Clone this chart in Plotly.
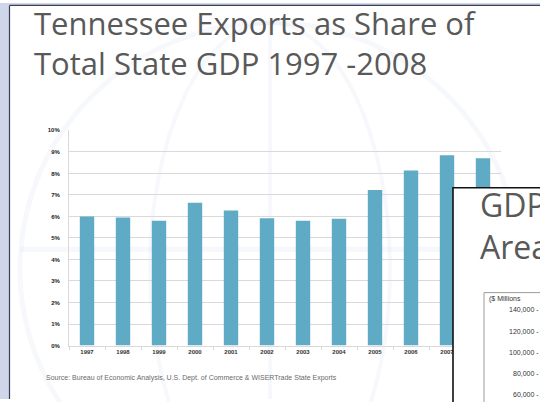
import plotly.graph_objects as go

# Exports as a share of Tennessee GDP
years = ["1997", "1998", "1999", "2000", "2001", "2002",
         "2003", "2004", "2005", "2006", "2007", "2008"]
export_share = [0.060, 0.0595, 0.058, 0.0663, 0.0627, 0.0591,
                0.058, 0.0589, 0.0723, 0.0814, 0.0884, 0.0870]
share_ticks = [0.00, 0.01, 0.02, 0.03, 0.04, 0.05, 0.06, 0.07, 0.08, 0.09, 0.10]

# Value axis of the next slide peeking in at the lower right
gdp_ticks = [140000, 120000, 100000, 80000, 60000]
gdp_tick_labels = ["140,000", "120,000", "100,000", "80,000", "60,000"]

W, H = 540, 402


def px(x):
    return x / W


def py(y):
    return 1 - y / H


BAR = "#5fabc6"
GRID = "#d9d9d9"
TITLE_GRAY = "#595959"
TITLE_FONT = "Open Sans, sans-serif"
SMALL_FONT = "Liberation Sans, Arial, sans-serif"

fig = go.Figure()

fig.add_trace(go.Bar(
    x=years, y=export_share, marker=dict(color=BAR, line=dict(width=0)),
    width=0.4, xaxis="x", yaxis="y", hoverinfo="skip", showlegend=False,
))

# invisible trace that keeps the second slide's value axis alive
fig.add_trace(go.Scatter(
    x=[0], y=[None], xaxis="x2", yaxis="y2", mode="markers",
    marker=dict(opacity=0), showlegend=False, hoverinfo="skip",
))

shapes = []

# slide frame: lavender strip on the left/top, dark edge line
shapes.append(dict(type="rect", xref="paper", yref="paper",
                   x0=0, x1=px(9), y0=0, y1=1,
                   fillcolor="#cfd6ea", line=dict(width=0), layer="below"))
shapes.append(dict(type="rect", xref="paper", yref="paper",
                   x0=0, x1=1, y0=py(2), y1=1,
                   fillcolor="#cfd6ea", line=dict(width=0), layer="below"))
shapes.append(dict(type="line", xref="paper", yref="paper",
                   x0=px(9.5), x1=px(9.5), y0=0, y1=py(2.5),
                   line=dict(color="#3a3f55", width=1.2), layer="below"))
shapes.append(dict(type="line", xref="paper", yref="paper",
                   x0=px(9.5), x1=1, y0=py(2.5), y1=py(2.5),
                   line=dict(color="#3a3f55", width=1.2), layer="below"))

# faint globe watermark behind the chart
wm = "rgba(215,222,238,0.22)"
shapes.append(dict(type="circle", xref="paper", yref="paper",
                   x0=px(20), x1=px(520), y0=py(520), y1=py(20),
                   line=dict(color=wm, width=5), layer="below"))
shapes.append(dict(type="circle", xref="paper", yref="paper",
                   x0=px(150), x1=px(390), y0=py(520), y1=py(20),
                   line=dict(color=wm, width=4), layer="below"))
shapes.append(dict(type="line", xref="paper", yref="paper",
                   x0=px(20), x1=px(520), y0=py(250), y1=py(250),
                   line=dict(color=wm, width=5), layer="below"))
shapes.append(dict(type="line", xref="paper", yref="paper",
                   x0=px(270), x1=px(270), y0=py(20), y1=0,
                   line=dict(color=wm, width=4), layer="below"))

# the next slide, overlapping the lower right corner
shapes.append(dict(type="rect", xref="paper", yref="paper",
                   x0=px(453), x1=px(545), y0=py(410), y1=py(187.5),
                   fillcolor="white", line=dict(color="#111111", width=1.6),
                   layer="above"))
shapes.append(dict(type="rect", xref="paper", yref="paper",
                   x0=px(484), x1=px(560), y0=py(420), y1=py(294),
                   fillcolor="white", line=dict(color="#9a9a9a", width=1),
                   layer="above"))

annotations = [
    dict(text="Tennessee Exports as Share of<br>Total State GDP 1997 -2008",
         xref="paper", yref="paper", x=px(32), y=py(-3),
         xanchor="left", yanchor="top", align="left", showarrow=False,
         font=dict(family=TITLE_FONT, size=31, color=TITLE_GRAY)),
    dict(text="Source: Bureau of Economic Analysis, U.S. Dept. of Commerce &amp; WISERTrade State Exports",
         xref="paper", yref="paper", x=px(44), y=py(381),
         xanchor="left", yanchor="middle", showarrow=False,
         font=dict(family=SMALL_FONT, size=7, color="#6a6a6a")),
    dict(text="GDP<br>Area",
         xref="paper", yref="paper", x=px(478), y=py(181),
         xanchor="left", yanchor="top", align="left", showarrow=False,
         font=dict(family=TITLE_FONT, size=32, color=TITLE_GRAY)),
    dict(text="($ Millions",
         xref="paper", yref="paper", x=px(487), y=py(300),
         xanchor="left", yanchor="middle", showarrow=False,
         font=dict(family=SMALL_FONT, size=7, color="#333333")),
]
for v, lab in zip(gdp_ticks, gdp_tick_labels):
    annotations.append(dict(
        text=lab + " -", xref="paper", yref="y2", x=px(541), y=v,
        xanchor="right", yanchor="middle", showarrow=False,
        font=dict(family=SMALL_FONT, size=7, color="#333333")))

fig.update_layout(
    width=W, height=H,
    margin=dict(l=0, r=0, t=0, b=0),
    paper_bgcolor="white", plot_bgcolor="rgba(0,0,0,0)",
    shapes=shapes,
    annotations=annotations,
    xaxis=dict(
        domain=[px(69), px(501)], anchor="y",
        showgrid=False, showline=True, linecolor=GRID, linewidth=1,
        ticks="outside", ticklen=3, tickcolor=GRID, tickson="boundaries",
        tickfont=dict(family=SMALL_FONT, size=6, color="#333333", weight="bold"),
        fixedrange=True,
    ),
    yaxis=dict(
        domain=[py(347.7), py(129.3)], anchor="x",
        range=[0, 0.10], tickvals=share_ticks, tickformat=".0%",
        showgrid=True, gridcolor=GRID, gridwidth=1.3,
        showline=True, linecolor=GRID, linewidth=1,
        zeroline=False, ticks="", ticklabelstandoff=7,
        tickfont=dict(family=SMALL_FONT, size=6, color="#222222", weight="bold"),
        fixedrange=True,
    ),
    xaxis2=dict(domain=[px(538), 1], anchor="y2", visible=False,
                range=[0, 1], fixedrange=True),
    yaxis2=dict(domain=[0, py(294)], anchor="x2", visible=False,
                range=[55400, 156500], fixedrange=True),
)

fig.write_html("out.html")
